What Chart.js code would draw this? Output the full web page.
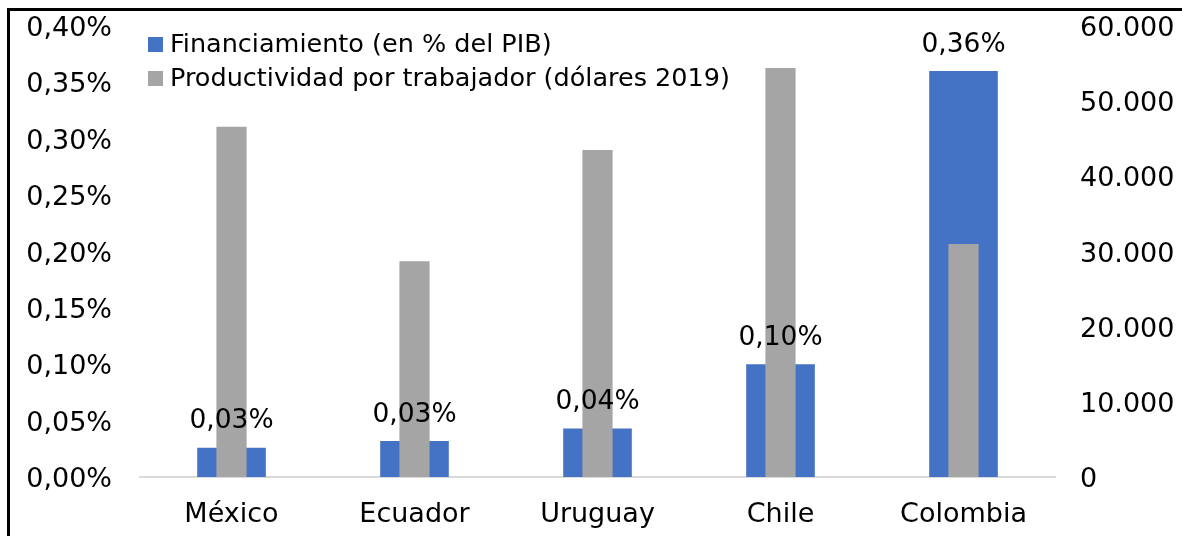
<!DOCTYPE html>
<html>
<head>
<meta charset="utf-8">
<script src="https://cdn.jsdelivr.net/npm/chart.js@4"></script>
<style>
  html, body { margin: 0; padding: 0; background: #fff; }
  #wrap { position: relative; width: 1182px; height: 536px; }
  #frame { position: absolute; left: 7px; top: 8px; right: 0; bottom: 0; border-top: 3px solid #000; border-left: 3px solid #000; pointer-events: none; }
</style>
</head>
<body>
<div id="wrap">
  <canvas id="chart" width="1182" height="536"></canvas>
  <div id="frame"></div>
</div>
<script>
const countries = ['México', 'Ecuador', 'Uruguay', 'Chile', 'Colombia'];
const financiamiento = [0.026, 0.032, 0.043, 0.10, 0.36];     // % del PIB
const productividad = [46600, 28700, 43500, 54400, 31000];    // dólares 2019
const seriesNames = ['Financiamiento (en % del PIB)', 'Productividad por trabajador (dólares 2019)'];
const colors = ['#4472C4', '#A5A5A5'];

const FONT = 'DejaVu Sans';
Chart.defaults.font.family = FONT;
Chart.defaults.color = '#000';

const legendInside = {
  id: 'legendInside',
  afterDraw(chart) {
    const ctx = chart.ctx;
    ctx.save();
    ctx.font = '25.5px ' + FONT;
    ctx.textBaseline = 'middle';
    seriesNames.forEach((name, i) => {
      const y = 44 + i * 34;
      ctx.fillStyle = colors[i];
      ctx.fillRect(148, y - 7, 15, 15);
      ctx.fillStyle = '#000';
      ctx.fillText(name, 170, y + 1);
    });
    ctx.restore();
  }
};

const valueLabels = {
  id: 'valueLabels',
  afterDatasetsDraw(chart) {
    const ctx = chart.ctx;
    const meta = chart.getDatasetMeta(0);
    ctx.save();
    ctx.font = '26.5px ' + FONT;
    ctx.textAlign = 'center';
    ctx.textBaseline = 'bottom';
    ctx.fillStyle = '#000';
    meta.data.forEach((bar, i) => {
      const txt = financiamiento[i].toFixed(2).replace('.', ',') + '%';
      ctx.fillText(txt, bar.x, bar.y - 13);
    });
    ctx.restore();
  }
};

const fitY = w => s => { s.width = w; s.paddingTop = 0; s.paddingBottom = 0; };

new Chart(document.getElementById('chart').getContext('2d'), {
  type: 'bar',
  data: {
    labels: countries,
    datasets: [
      { label: seriesNames[0], data: financiamiento, backgroundColor: colors[0], yAxisID: 'y',
        grouped: false, categoryPercentage: 1, barPercentage: 0.375, order: 2 },
      { label: seriesNames[1], data: productividad, backgroundColor: colors[1], yAxisID: 'y1',
        grouped: false, categoryPercentage: 1, barPercentage: 0.165, order: 1 }
    ]
  },
  options: {
    responsive: false,
    animation: false,
    layout: { padding: { top: 26, left: 0, right: 0, bottom: 0 } },
    plugins: { legend: { display: false }, tooltip: { enabled: false }, title: { display: false } },
    scales: {
      x: {
        grid: { display: false, drawTicks: false },
        border: { display: true, color: '#d9d9d9', width: 2 },
        ticks: { font: { size: 27 }, padding: 22 },
        afterFit: s => { s.height = 59; s.paddingLeft = 0; s.paddingRight = 0; }
      },
      y: {
        position: 'left', min: 0, max: 0.40,
        grid: { display: false, drawTicks: false },
        border: { display: false },
        ticks: { stepSize: 0.05, padding: 28, labelOffset: 3, font: { size: 27 },
          callback: v => v.toFixed(2).replace('.', ',') + '%' },
        afterFit: fitY(140)
      },
      y1: {
        position: 'right', min: 0, max: 60000,
        grid: { display: false, drawTicks: false },
        border: { display: false },
        ticks: { stepSize: 10000, padding: 25, labelOffset: 3, font: { size: 27 },
          callback: v => String(v).replace(/\B(?=(\d{3})+(?!\d))/g, '.') },
        afterFit: fitY(127)
      }
    }
  },
  plugins: [legendInside, valueLabels]
});
</script>
</body>
</html>
